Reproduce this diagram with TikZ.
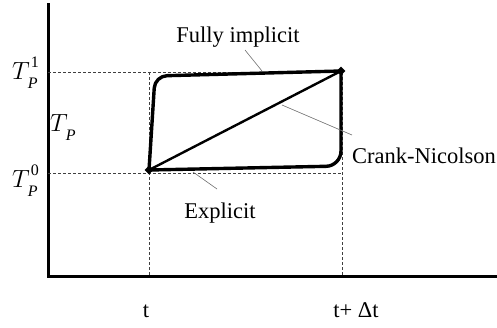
\documentclass[tikz,border=0pt]{standalone}
\usepackage{fontspec}
\setmainfont{Liberation Serif}
\usetikzlibrary{positioning,shapes.geometric}
\definecolor{leadgray}{HTML}{707070}
\definecolor{guidegray}{HTML}{404040}

% temperature label with subscript P and an optional superscript
\newcommand{\Tsym}[1]{{\fontsize{34}{34}\selectfont$T$}\kern-2pt%
  \rlap{\raisebox{-9pt}{\fontsize{16}{16}\selectfont\textit{P}}}%
  \kern3pt\raisebox{12pt}{\fontsize{16}{16}\selectfont #1}}

\begin{document}
\begin{tikzpicture}[
  x=1pt, y=-1pt,
  font=\fontsize{22.5}{25}\selectfont,
  axis/.style={line width=3pt},
  guide/.style={draw=guidegray, line width=0.6pt, dash pattern=on 3pt off 2pt},
  scheme/.style={line width=3.4pt, rounded corners=12pt, line join=round},
  leader/.style={draw=leadgray, line width=0.6pt},
  dot/.style={diamond, fill, inner sep=0pt, minimum size=9pt},
  lbl/.style={anchor=base, inner sep=0pt}
]
\useasboundingbox (0,0) rectangle (497,327);

% axes
\coordinate (origin) at (48,276);
\coordinate (ytop) at (48,3);
\coordinate (xend) at (497,276);
\draw[axis] (ytop) -- (origin) -- (xend);

% guide lines
\coordinate (a1) at (48,72);
\coordinate (b1) at (342,72);
\coordinate (a0) at (48,173);
\coordinate (b0) at (342,173);
\coordinate (c1) at (149,72);
\coordinate (c0) at (149,276);
\coordinate (d0) at (342,276);
\draw[guide] (a1) -- (b1);
\draw[guide] (a0) -- (b0);
\draw[guide] (c1) -- (c0);
\draw[guide] (b1) -- (d0);

% end points of the step
\node[dot] (p0) at (149,170) {};
\node[dot] (p1) at (341,71) {};

% the three schemes
\draw[scheme] (p0.center) -- (155,76) -- (p1.center);
\draw[scheme, rounded corners=15pt] (p0.center) -- (341,166) -- (p1.center);
\draw[line width=2.4pt] (p0.center) -- (p1.center);

% labels and leaders
\node[lbl] (impl) at (238,42) {Fully implicit};
\node[lbl, anchor=base west] (cn) at (352,163) {Crank-Nicolson};
\node[lbl] (expl) at (220,218) {Explicit};
\coordinate (implfoot) at (245,50);
\coordinate (impltip) at (262,71);
\coordinate (cnfoot) at (352,135);
\coordinate (cntip) at (282,105);
\coordinate (explfoot) at (217,189);
\coordinate (expltip) at (193,172);
\draw[leader] (implfoot) -- (impltip);
\draw[leader] (cnfoot) -- (cntip);
\draw[leader] (explfoot) -- (expltip);

% axis labels
\node[anchor=base west, inner sep=0pt] (tp1) at (12,79) {\Tsym{1}};
\node[anchor=base west, inner sep=0pt] (tp) at (50,131) {\Tsym{}};
\node[anchor=base west, inner sep=0pt] (tp0) at (12,187) {\Tsym{0}};
\node[lbl] (tnow) at (146,317) {t};
\node[lbl] (tnext) at (356,317) {t+ Δt};
\end{tikzpicture}
\end{document}
